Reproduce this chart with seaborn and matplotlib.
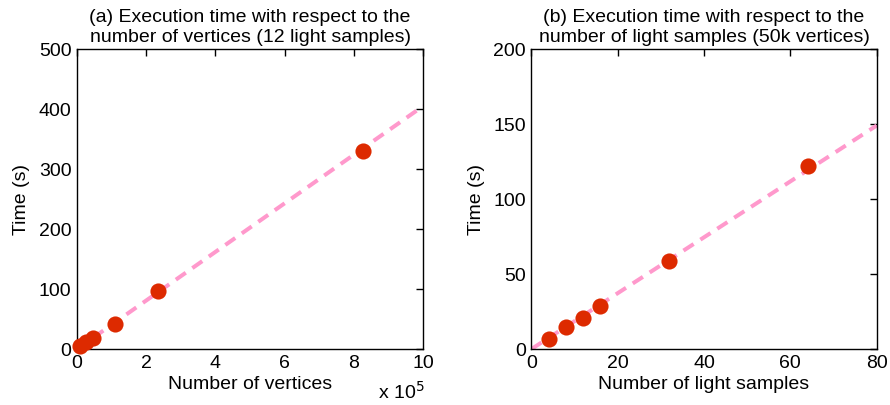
import matplotlib
matplotlib.use("Agg")
import matplotlib.pyplot as plt
import seaborn as sns

# Panel (a): vertices (x 1e5) vs time (s)
vertices = [0.1, 0.25, 0.45, 1.1, 2.35, 8.25]
time_a = [5, 12, 18, 42, 97, 330]
fit_a_x = [0, 10]
fit_a_y = [0, 405]

# Panel (b): light samples vs time (s)
samples = [4, 8, 12, 16, 32, 64]
time_b = [7, 15, 21, 29, 59, 122]
fit_b_x = [0, 80]
fit_b_y = [0, 149]

sns.set_theme(style="white")
plt.rcParams['font.family'] = ['Liberation Sans', 'DejaVu Sans']
plt.rcParams['text.color'] = 'black'
plt.rcParams['axes.labelcolor'] = 'black'
FS = 14

fig = plt.figure(figsize=(8.9, 4.05), dpi=100)
ax1 = fig.add_axes([0.0865, 0.138, 0.389, 0.741])
ax2 = fig.add_axes([0.597, 0.138, 0.388, 0.741])

line_color = "#ff99cc"
dot_color = "#dd2a00"

def draw(ax, fx, fy, x, y, xlim, ylim, xticks, yticks, xlabel, title):
    sns.lineplot(x=fx, y=fy, ax=ax, color=line_color, linewidth=2.9, linestyle=(0, (3, 2.0)))
    sns.scatterplot(x=x, y=y, ax=ax, color=dot_color, s=135, edgecolor=dot_color, linewidth=0)
    for ln in ax.lines:
        ln.set_zorder(1)
    for c in ax.collections:
        c.set_zorder(5)
        c.set_clip_on(False)
    ax.set_xlim(*xlim)
    ax.set_ylim(*ylim)
    ax.set_xticks(xticks)
    ax.set_yticks(yticks)
    ax.tick_params(direction="in", top=True, right=True, length=5, width=1, labelsize=FS, colors="black", pad=4)
    for s in ax.spines.values():
        s.set_color("black")
        s.set_linewidth(1)
    ax.set_xlabel(xlabel, fontsize=FS, labelpad=3)
    ax.set_ylabel("Time (s)", fontsize=FS, labelpad=6)
    ax.set_title(title, fontsize=FS, pad=5, linespacing=1.2)
    ax.grid(False)

draw(ax1, fit_a_x, fit_a_y, vertices, time_a, (0, 10), (0, 500),
     [0, 2, 4, 6, 8, 10], [0, 100, 200, 300, 400, 500], "Number of vertices",
     "(a) Execution time with respect to the\nnumber of vertices (12 light samples)")
draw(ax2, fit_b_x, fit_b_y, samples, time_b, (0, 80), (0, 200),
     [0, 20, 40, 60, 80], [0, 50, 100, 150, 200], "Number of light samples",
     "(b) Execution time with respect to the\nnumber of light samples (50k vertices)")

ax1.text(1.005, -0.105, r"x 10$^{5}$", transform=ax1.transAxes, ha="right", va="top", fontsize=FS)

fig.savefig("out.png", dpi=100)
